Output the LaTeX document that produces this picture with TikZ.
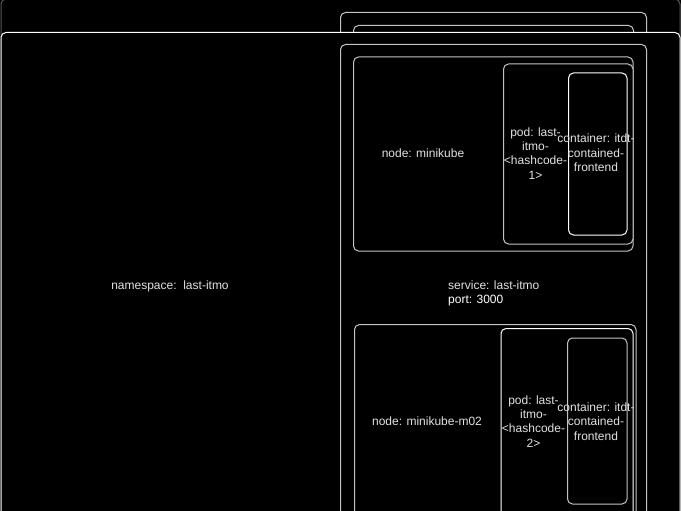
\documentclass[tikz,border=0pt]{standalone}
\usepackage{fontspec}
\setmainfont{Liberation Sans}
\definecolor{boxgray}{HTML}{C4C4C4}
\definecolor{txtgray}{HTML}{E2E2E2}
\definecolor{dimgray}{HTML}{555555}
\begin{document}
\begin{tikzpicture}[x=1pt,y=-1pt,
  box/.style={draw=boxgray, line width=1pt, rounded corners=5pt, fill=black},
  lbl/.style={text=txtgray, font=\fontsize{12}{14.3}\selectfont, align=center, inner sep=0pt}]
\useasboundingbox (0,0) rectangle (681,511);
\fill[black] (0,0) rectangle (681,511);
\clip (0,0) rectangle (681,511);
% stacked copies behind
\draw[box, draw=dimgray] (1,-1) rectangle (680,540);
\draw[box] (340.5,12.5) rectangle (646.5,540);
\draw[box] (353.5,25.5) rectangle (633.5,540);
% namespace
\draw[box, draw=white] (1,32.5) rectangle (680,540);
\node[lbl] (ns) at (170,286.5) {namespace:\ \ last-itmo};
% service
\draw[box] (340.5,44.5) rectangle (646.5,540);
\node[lbl, align=left, anchor=west] (svc) at (448,293.5) {service: last-itmo\\\textcolor{white}{port: 3000}};
% node minikube
\draw[box] (353.5,57) rectangle (633,251);
\node[lbl] (n1) at (423,153.5) {node: minikube};
\draw[box] (503.5,64) rectangle (633,244);
\node[lbl] (p1) at (535.5,153.5) {pod: last-\\itmo-\\<hashcode-\\1>};
\draw[box, draw=white] (568.5,73) rectangle (627,235);
\node[lbl] (c1) at (596,153) {container: itdt-\\contained-\\frontend};
% node minikube-m02
\draw[box] (354.5,324.5) rectangle (636,540);
\node[lbl] (n2) at (427,421.5) {node: minikube-m02};
\draw[box, draw=white] (501,328.5) rectangle (633,540);
\node[lbl] (p2) at (533.5,421.5) {pod: last-\\itmo-\\<hashcode-\\2>};
\draw[box] (567.5,338) rectangle (627,504);
\node[lbl] (c2) at (596,421.5) {container: itdt-\\contained-\\frontend};
\end{tikzpicture}
\end{document}
